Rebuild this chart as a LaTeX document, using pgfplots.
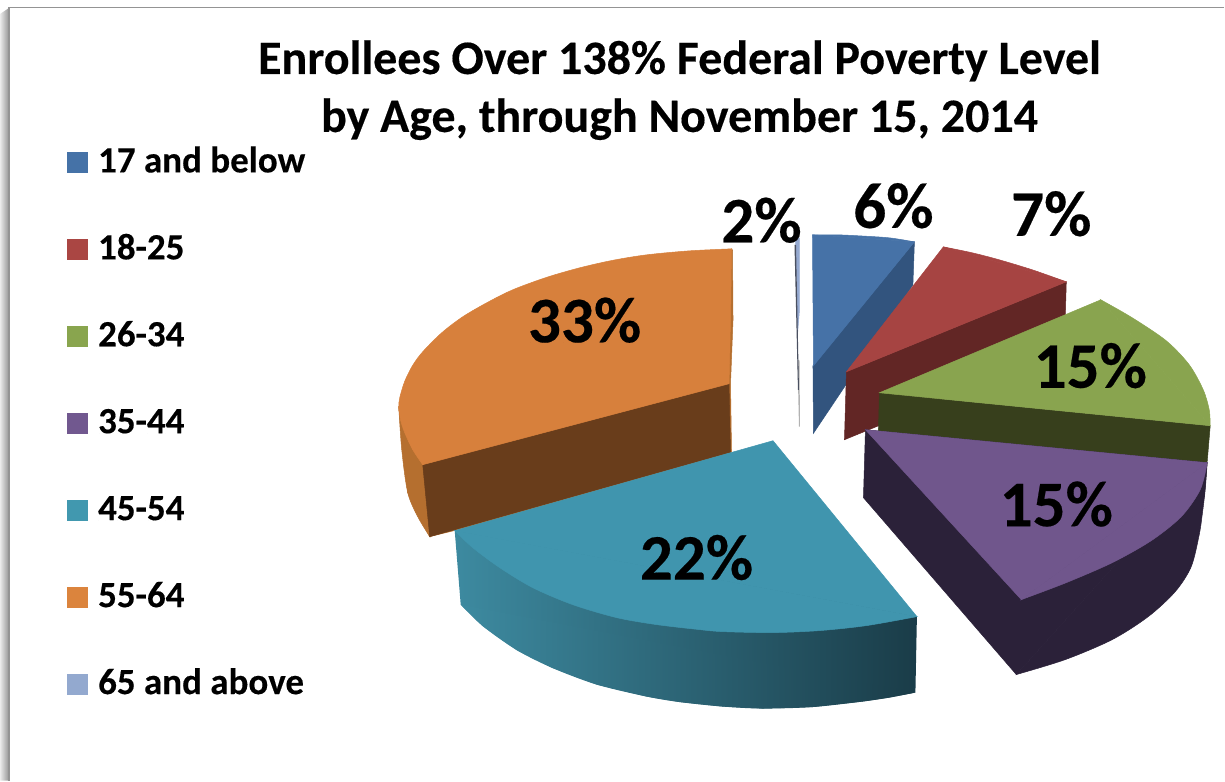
\documentclass[border=0pt]{standalone}
\usepackage{pgfplots}
\pgfplotsset{compat=1.18}
\usepackage{fontspec}
\setmainfont{Carlito}[BoldFeatures={FakeBold=0.3}]
\definecolor{blueT}{HTML}{4672A7}\definecolor{blueS}{HTML}{32547E}
\definecolor{redT}{HTML}{A64442}\definecolor{redS}{HTML}{622625}
\definecolor{greenT}{HTML}{89A44F}\definecolor{greenS}{HTML}{373F1C}
\definecolor{purpleT}{HTML}{70568C}\definecolor{purpleS}{HTML}{2B2139}
\definecolor{tealT}{HTML}{4095AE}\definecolor{tealL}{HTML}{3D8AA0}\definecolor{tealR}{HTML}{1A3C48}
\definecolor{orangeT}{HTML}{D7803C}\definecolor{orangeS}{HTML}{693D1B}\definecolor{orangeO}{HTML}{B56F2F}
\definecolor{skyT}{HTML}{95A9D0}\definecolor{skyS}{HTML}{4A5060}
\definecolor{legB}{HTML}{4572A7}\definecolor{legR}{HTML}{AA4643}\definecolor{legG}{HTML}{89A54E}
\definecolor{legP}{HTML}{71588F}\definecolor{legT}{HTML}{4198AF}\definecolor{legO}{HTML}{DB843D}\definecolor{legS}{HTML}{93A9CF}
% straight-edged facet of a slice
\newcommand\face[2]{\addplot[fill=#1,draw=#1,line width=0.5pt] coordinates {#2} --cycle;}
% rounded outer rim of a slice, closed by its chord
\newcommand\rim[2]{\addplot[smooth,fill=#1,draw=#1,line width=0.5pt] coordinates {#2} --cycle;}
\newcommand\legrow[3]{%
  \addplot[fill=#1,draw=none] coordinates {(67,#2) (88,#2) (88,#2+21) (67,#2+21)} --cycle;
  \node[anchor=base west,inner sep=0pt] at (axis cs:98,#2+20.5) {\fontsize{37}{40}\selectfont\bfseries #3};}
\begin{document}
\begin{tikzpicture}
\begin{axis}[scale only axis,width=1225pt,height=781pt,xmin=0,xmax=1225,ymin=0,ymax=781,
  y dir=reverse,hide axis,clip=false]
\path (axis cs:0,0) rectangle (axis cs:1225,781);
% chart frame and its drop shadow
\addplot[draw=none,left color=white!92!black,right color=black!42] coordinates {(0,14) (9,8) (9,781) (0,781)} --cycle;
\addplot[draw=black!42,line width=1.6pt] coordinates {(1225,7.5) (9,7.5) (9,781)};
% 55-64
\face{orangeO}{(733,250) (733.5,320) (731,384) (732,452) (700,470) (430,537) (408,493) (399,407)}
\rim{orangeO}{(399,407) (402,450) (408,493) (418,517) (430,537)}
\face{orangeS}{(729.5,384) (423,465) (430,537) (731,452.5)}
\face{orangeT}{(732,249) (399,407) (423,465) (729.5,384) (731,320)}
\rim{orangeT}{(732,249) (690,251) (647,255) (613,260.5) (580,268) (547,277.5) (513,290) (487,303) (463,317) (442,333) (423,352) (413,365.5) (405,381.5) (400,398) (399,408) (401,421) (405,433) (413,450) (423,465)}
% 45-54
\addplot[draw=none,left color=tealL,right color=tealR] coordinates {(455,531) (461,605) (483,626.5) (517,650.5) (553,668.5) (597,685) (647,697) (680,702.5) (723,707) (763,709) (813,707.5) (863,702) (890,698) (916,693) (917.5,617) (700,560)} --cycle;
\addplot[smooth,draw=none,left color=tealL,right color=tealR] coordinates {(461,605) (483,626.5) (517,650.5) (553,668.5) (597,685) (647,697) (680,702.5) (723,707) (763,709) (813,707.5) (863,702) (890,698) (916,693)} --cycle;
\face{tealT}{(773.5,441) (455,531) (917.5,617)}
\rim{tealT}{(455,531) (473,548) (500,568) (533,588) (573,605) (617,618) (657,625) (700,630) (723,632) (773,633) (820,631) (867,626) (917.5,617)}
% 65 and above
\face{skyT}{(796,238) (800,238) (800,310) (798,335)}
\addplot[fill=black!30,draw=none] coordinates {(798,360) (800,360) (800.5,427) (799.5,427)} --cycle;
\addplot[fill=skyS,draw=none] coordinates {(795,245) (796.5,245) (799.5,390) (798.5,390)} --cycle;
% 17 and below
\face{blueS}{(915,242) (913.5,285) (814,433.5) (813.5,366)}
\face{blueT}{(813,235) (915,242) (814,366)}
\rim{blueT}{(813,235) (838,235) (860,236) (890,238) (915,242)}
% 18-25
\face{redS}{(847,372) (1067,282) (1065,350) (845,440)}
\face{redT}{(847,372) (944,247) (1067,282)}
\rim{redT}{(944,247) (973,253) (1000,260) (1033,270) (1067,282)}
% 26-34
\face{greenS}{(880,393) (1211,426) (1205,497) (1180,470) (879,431)}
\face{greenT}{(880,393) (1101.5,300) (1211,426)}
\rim{greenT}{(1101.5,300) (1133,318) (1167,341) (1190,365) (1204,390) (1210,410) (1211,426)}
% 35-44
\face{purpleS}{(866,430) (1208,463) (1017,675) (864,498)}
\rim{purpleS}{(1208,463) (1206,490) (1203,515) (1200,535) (1192,567) (1176,592) (1149,617) (1113,640) (1066,660) (1017,675)}
\face{purpleT}{(866,430) (1208,463) (1022,600)}
\rim{purpleT}{(1208,463) (1201,490) (1182,517) (1152,541) (1113,563) (1067,583) (1022,600)}
% value labels
\begingroup
\def\lab#1#2#3{\node[anchor=base,inner sep=0pt] at (axis cs:#1,#2) {\fontsize{65}{70}\selectfont\bfseries #3};}
\lab{585}{342.5}{33\%}
\lab{762}{242.5}{2\%}
\lab{894}{228}{6\%}
\lab{1052}{236}{7\%}
\lab{1091}{388}{15\%}
\lab{1057}{526.5}{15\%}
\lab{697}{580}{22\%}
\endgroup
% title
\node[anchor=base,inner sep=0pt] at (axis cs:680,74) {\fontsize{48}{52}\selectfont\bfseries Enrollees Over 138\% Federal Poverty Level};
\node[anchor=base,inner sep=0pt] at (axis cs:680,132) {\fontsize{48}{52}\selectfont\bfseries by Age, through November 15, 2014};
% legend
\legrow{legB}{152}{17 and below}
\legrow{legR}{239}{18-25}
\legrow{legG}{326}{26-34}
\legrow{legP}{413}{35-44}
\legrow{legT}{500}{45-54}
\legrow{legO}{587}{55-64}
\legrow{legS}{674}{65 and above}
\end{axis}
\end{tikzpicture}
\end{document}
